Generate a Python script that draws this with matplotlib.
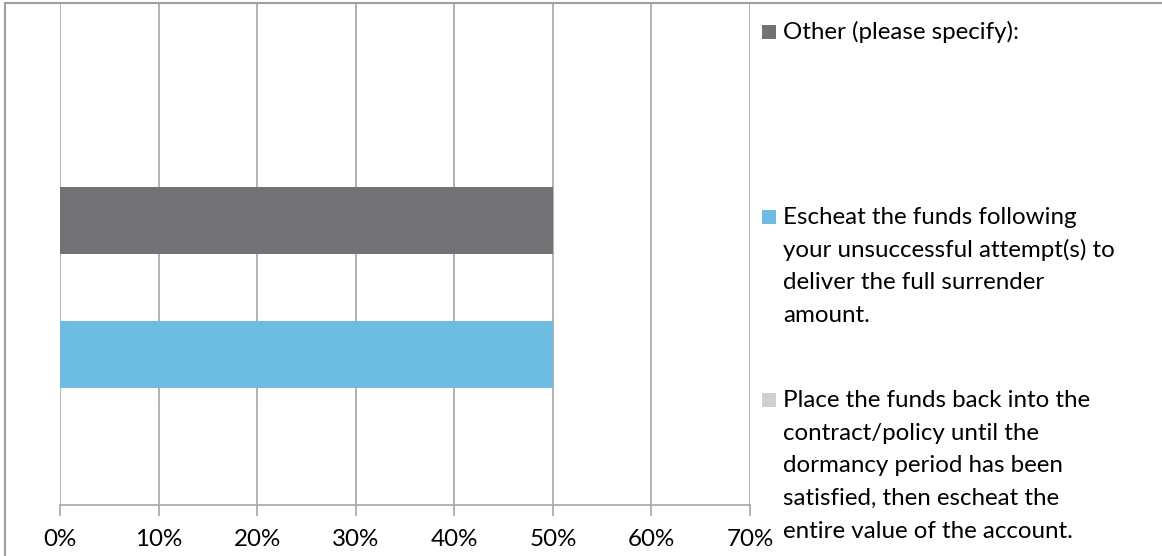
import textwrap
import matplotlib
matplotlib.use("Agg")
import matplotlib.pyplot as plt
from matplotlib.patches import Rectangle

# Survey responses: share of respondents choosing each option
series_names = [
    "Place the funds back into the contract/policy until the dormancy period has been satisfied, then escheat the entire value of the account.",
    "Escheat the funds following your unsuccessful attempt(s) to deliver the full surrender amount.",
    "Other (please specify):",
]
series_values = [0, 50, 50]
series_colors = ["#d0d0d0", "#6dbde3", "#737277"]
x_ticks = [0, 10, 20, 30, 40, 50, 60, 70]
x_tick_labels = [f"{t}%" for t in x_ticks]

W, H = 1162, 556
fig = plt.figure(figsize=(W / 100, H / 100), dpi=100)
FONT = "Lato"
FS = 17.4
GRID = "#a6a6a6"

# outer chart frame
fig.patches.append(Rectangle((5 / W, -0.1), 1.2, (H - 3) / H + 0.1, transform=fig.transFigure,
                             fill=False, edgecolor="#a0a0a0", linewidth=1.5, zorder=0))

ax = fig.add_axes([60 / W, (H - 505) / H, (750 - 60) / W, (505 - 4) / H])
positions = list(range(len(series_values)))
ax.barh(positions, series_values, height=0.5, color=series_colors, zorder=3)
ax.set_xlim(0, 70)
ax.set_ylim(-0.123, 3.616)
ax.set_xticks(x_ticks)
ax.set_xticklabels(x_tick_labels, fontfamily=FONT, fontsize=FS)
ax.set_yticks([])
ax.grid(axis="x", color=GRID, linewidth=1.2, zorder=0)
for side in ("top", "left", "right"):
    ax.spines[side].set_visible(False)
ax.spines["bottom"].set_color(GRID)
ax.spines["bottom"].set_linewidth(1.2)
ax.tick_params(axis="x", length=8, width=1.2, color=GRID, pad=9.5)

# legend, one block per series; baseline (px from top) of each block's first line
legend_baselines = [407, 224, 39]
LINE_STEP = 32.7
for name, color, base in zip(series_names, series_colors, legend_baselines):
    fig.patches.append(Rectangle((762 / W, (H - base) / H), 14 / W, 14 / H,
                                 transform=fig.transFigure, facecolor=color, edgecolor="none"))
    for i, line in enumerate(textwrap.wrap(name, 31)):
        fig.text(783 / W, (H - base - i * LINE_STEP) / H, line, fontfamily=FONT,
                 fontsize=FS, va="baseline", ha="left", transform=fig.transFigure)

fig.savefig("out.png", dpi=100)
